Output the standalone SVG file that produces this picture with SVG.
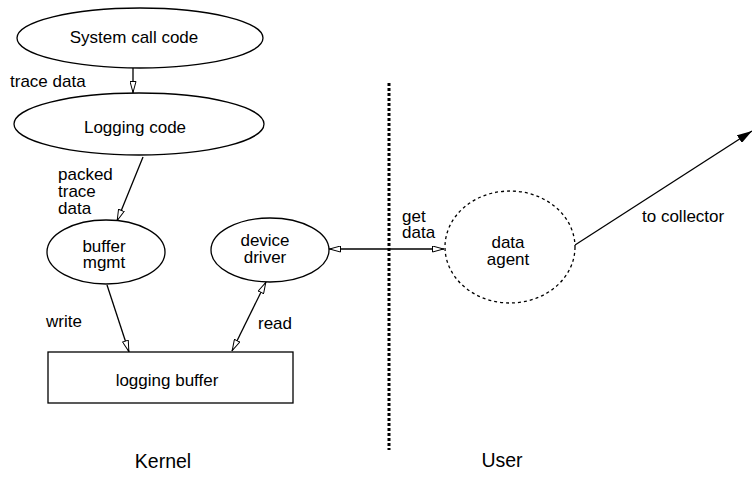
<svg xmlns="http://www.w3.org/2000/svg" width="752" height="477" viewBox="0 0 752 477">
<defs>
<style>
.n{fill:white;stroke:black;stroke-width:1.3}
.d{fill:white;stroke:black;stroke-width:1.3;stroke-dasharray:3 3}
.c{fill:none;stroke:black;stroke-width:1.3}
text{font-family:"Liberation Sans",Arial,sans-serif;font-size:17px;fill:black}
.m{text-anchor:middle}
.big{font-size:19.5px}
</style>
<marker id="h" viewBox="0 0 12 7" refX="12" refY="3.5" markerWidth="12" markerHeight="7" orient="auto-start-reverse" markerUnits="userSpaceOnUse">
<path d="M0.5,0.5 L11.5,3.5 L0.5,6.5 z" fill="white" stroke="black" stroke-width="1"/>
</marker>
<marker id="f" viewBox="0 0 15 9" refX="15" refY="4.5" markerWidth="15" markerHeight="9" orient="auto" markerUnits="userSpaceOnUse">
<path d="M0,0 L15,4.5 L0,9 z" fill="black"/>
</marker>
</defs>
<rect width="752" height="477" fill="white"/>
<g id="connectors">
<line class="c" x1="133" y1="68" x2="133" y2="93" marker-end="url(#h)"/>
<line class="c" x1="143" y1="157" x2="117" y2="221" marker-end="url(#h)"/>
<line class="c" x1="107" y1="285" x2="129" y2="352" marker-end="url(#h)"/>
<line class="c" x1="232" y1="351" x2="266" y2="282" marker-start="url(#h)" marker-end="url(#h)"/>
<line class="c" x1="329" y1="249" x2="444" y2="249" marker-start="url(#h)" marker-end="url(#h)"/>
<line class="c" x1="575" y1="245" x2="752" y2="131" marker-end="url(#f)"/>
<text x="10" y="87">trace data</text>
<text x="58" y="180">packed</text>
<text x="58" y="197">trace</text>
<text x="58" y="214">data</text>
<text x="46" y="327">write</text>
<text x="258" y="329">read</text>
<text x="402" y="222">get</text>
<text x="402" y="238">data</text>
<text x="642" y="222">to collector</text>
</g>
<g id="divider">
<line x1="389" y1="83" x2="389" y2="450" stroke="black" stroke-width="3" stroke-dasharray="3 2"/>
</g>
<g id="syscall">
<ellipse class="n" cx="140" cy="38" rx="123" ry="30"/>
<text class="m" x="134" y="43">System call code</text>
</g>
<g id="logging">
<ellipse class="n" cx="139" cy="124" rx="125" ry="31"/>
<text class="m" x="135" y="133">Logging code</text>
</g>
<g id="buffermgmt">
<ellipse class="n" cx="106" cy="252" rx="59" ry="32"/>
<text class="m" x="104" y="252">buffer</text>
<text class="m" x="104" y="268">mgmt</text>
</g>
<g id="devicedriver">
<ellipse class="n" cx="270" cy="250" rx="59" ry="32"/>
<text class="m" x="265" y="246">device</text>
<text class="m" x="265" y="263">driver</text>
</g>
<g id="loggingbuffer">
<rect class="n" x="48" y="352" width="245" height="51"/>
<text class="m" x="167" y="386">logging buffer</text>
</g>
<g id="dataagent">
<ellipse class="d" cx="510" cy="247" rx="65" ry="56"/>
<text class="m" x="508" y="248">data</text>
<text class="m" x="508" y="265">agent</text>
</g>
<text class="m big" x="163" y="468">Kernel</text>
<text class="m big" x="502" y="467">User</text>
</svg>
